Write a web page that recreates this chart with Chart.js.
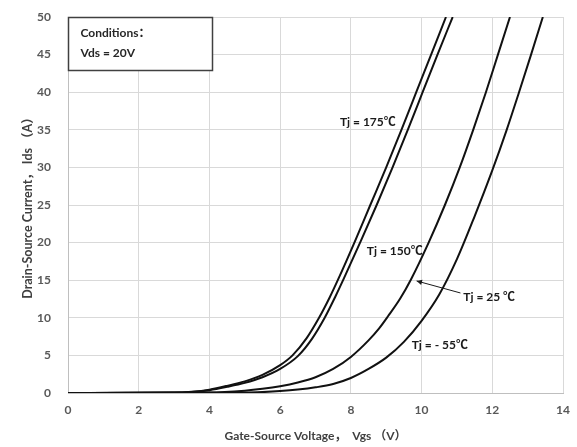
<!DOCTYPE html>
<html>
<head>
<meta charset="utf-8">
<script src="https://cdn.jsdelivr.net/npm/chart.js@4"></script>
<style>
  html, body { margin: 0; padding: 0; background: #fff; }
  #wrap { width: 577px; height: 447px; position: relative; }
</style>
</head>
<body>
<div id="wrap"><canvas id="chart" width="577" height="447"></canvas></div>
<script>
// values (Vgs in V, Ids in A)
const xTicks = [0, 2, 4, 6, 8, 10, 12, 14];
const yTicks = [0, 5, 10, 15, 20, 25, 30, 35, 40, 45, 50];

const vgs175 = [0, 3, 3.5, 4, 4.5, 5, 5.5, 6, 6.35, 6.75, 7.1, 7.4, 7.64, 8.1, 8.55, 9.0, 9.43, 9.85, 10.27, 10.69];
const ids175 = [0, 0.05, 0.17, 0.45, 0.95, 1.55, 2.4, 3.7, 5, 7.3, 10, 12.7, 15.1, 20, 25, 30, 35, 40, 45, 50];

const vgs150 = [0, 3, 3.5, 4, 4.5, 5, 5.5, 6, 6.5, 6.9, 7.26, 7.56, 7.8, 8.28, 8.73, 9.18, 9.61, 10.03, 10.45, 10.88];
const ids150 = [0, 0.04, 0.14, 0.38, 0.82, 1.35, 2.1, 3.2, 4.9, 7.2, 10, 12.8, 15.2, 20.2, 25, 30, 35, 40, 45, 50];

const vgs25 = [0, 4, 5, 5.5, 6, 6.5, 7, 7.5, 8, 8.5, 8.8, 9.05, 9.4, 9.7, 10.2, 10.66, 11.08, 11.46, 11.82, 12.16, 12.5];
const ids25 = [0, 0.05, 0.3, 0.55, 0.9, 1.4, 2.1, 3.2, 4.8, 7.0, 8.6, 10.2, 12.6, 15.1, 20, 25, 30, 35, 40, 45, 50];

const vgsM55 = [0, 5, 5.5, 6, 6.5, 7, 7.5, 8, 8.5, 9, 9.5, 10, 10.5, 11, 11.5, 12, 12.4, 12.75, 13.09, 13.43];
const idsM55 = [0, 0.05, 0.12, 0.25, 0.45, 0.75, 1.2, 2.0, 3.2, 4.7, 6.8, 9.6, 13.1, 17.8, 23.5, 29.6, 34.9, 39.9, 44.9, 50];

const curveNames = ["Tj = 175℃", "Tj = 150℃", "Tj = 25 ℃", "Tj = - 55℃"];

// label anchors in data units
const labelPos = [
  { text: "Tj = 175℃", x: 9.27, y: 36.0, align: "right" },
  { text: "Tj = 150℃", x: 8.45, y: 18.9, align: "left" },
  { text: "Tj = 25 ℃", x: 11.18, y: 12.8, align: "left" },
  { text: "Tj = - 55℃", x: 9.72, y: 6.4, align: "left" }
];
const arrowFrom = { x: 11.1, y: 13.3 };
const arrowTo = { x: 9.86, y: 14.9 };

const FONT = "Lato, 'Noto Sans CJK SC', sans-serif";

function pts(xs, ys) {
  return xs.map((x, i) => ({ x: x, y: ys[i] }));
}

const series = [
  pts(vgs175, ids175),
  pts(vgs150, ids150),
  pts(vgs25, ids25),
  pts(vgsM55, idsM55)
];

const notes = {
  id: "notes",
  afterDatasetsDraw(chart) {
    const ctx = chart.ctx;
    const xs = chart.scales.x, ys = chart.scales.y;
    const area = chart.chartArea;
    ctx.save();
    ctx.fillStyle = "#1a1a1a";
    ctx.font = "bold 12px " + FONT;
    ctx.textBaseline = "middle";
    labelPos.forEach(l => {
      ctx.textAlign = l.align;
      ctx.fillText(l.text, xs.getPixelForValue(l.x), ys.getPixelForValue(l.y));
    });

    // arrow to the 25 degree curve
    const x1 = xs.getPixelForValue(arrowFrom.x), y1 = ys.getPixelForValue(arrowFrom.y);
    const x2 = xs.getPixelForValue(arrowTo.x), y2 = ys.getPixelForValue(arrowTo.y);
    ctx.strokeStyle = "#1a1a1a";
    ctx.lineWidth = 1;
    ctx.beginPath();
    ctx.moveTo(x1, y1);
    ctx.lineTo(x2, y2);
    ctx.stroke();
    const ang = Math.atan2(y2 - y1, x2 - x1);
    ctx.beginPath();
    ctx.moveTo(x2, y2);
    ctx.lineTo(x2 - 6 * Math.cos(ang - 0.45), y2 - 6 * Math.sin(ang - 0.45));
    ctx.lineTo(x2 - 6 * Math.cos(ang + 0.45), y2 - 6 * Math.sin(ang + 0.45));
    ctx.closePath();
    ctx.fill();

    // conditions box
    const bx = area.left + 0.5, by = area.top + 0.5;
    ctx.fillStyle = "#fff";
    ctx.fillRect(bx, by, 144, 53);
    ctx.strokeStyle = "#404040";
    ctx.lineWidth = 1.5;
    ctx.strokeRect(bx, by, 144, 53);
    ctx.fillStyle = "#262626";
    ctx.textAlign = "left";
    ctx.font = "bold 12px " + FONT;
    ctx.fillText("Conditions：", bx + 12, by + 16);
    ctx.fillText("Vds = 20V", bx + 12, by + 36);
    ctx.restore();
  }
};

new Chart(document.getElementById("chart"), {
  type: "line",
  data: {
    datasets: series.map((d, i) => ({
      label: curveNames[i],
      data: d,
      borderColor: "#111",
      borderWidth: 2,
      pointRadius: 0,
      cubicInterpolationMode: "monotone",
      fill: false
    }))
  },
  options: {
    responsive: false,
    animation: false,
    layout: { padding: { top: 17, right: 14, left: 0, bottom: 0 } },
    plugins: {
      legend: { display: false },
      tooltip: { enabled: false }
    },
    scales: {
      x: {
        type: "linear",
        min: 0,
        max: 14,
        afterBuildTicks: s => { s.ticks = xTicks.map(v => ({ value: v })); },
        afterFit: s => { s.height = 54; },
        grid: { color: "#d9d9d9", drawTicks: true, tickLength: 10, tickColor: "rgba(0,0,0,0)" },
        border: { color: "#bfbfbf" },
        ticks: { padding: 0, color: "#595959", font: { family: FONT, size: 12, weight: "bold" } },
        title: {
          display: true,
          text: "Gate-Source Voltage，  Vgs （V）",
          color: "#404040",
          padding: { top: 2 },
          font: { family: FONT, size: 12, weight: "bold" }
        }
      },
      y: {
        min: 0,
        max: 50,
        afterBuildTicks: s => { s.ticks = yTicks.map(v => ({ value: v })); },
        afterFit: s => { s.width = 68; },
        grid: { color: "#d9d9d9", drawTicks: true, tickLength: 16, tickColor: "rgba(0,0,0,0)" },
        border: { color: "#bfbfbf" },
        ticks: { padding: 1, color: "#595959", font: { family: FONT, size: 12, weight: "bold" } },
        title: {
          display: true,
          text: "Drain-Source Current， Ids （A）",
          color: "#404040",
          padding: { top: 20 },
          font: { family: FONT, size: 12.5, weight: "bold" }
        }
      }
    }
  },
  plugins: [notes]
});
</script>
</body>
</html>
